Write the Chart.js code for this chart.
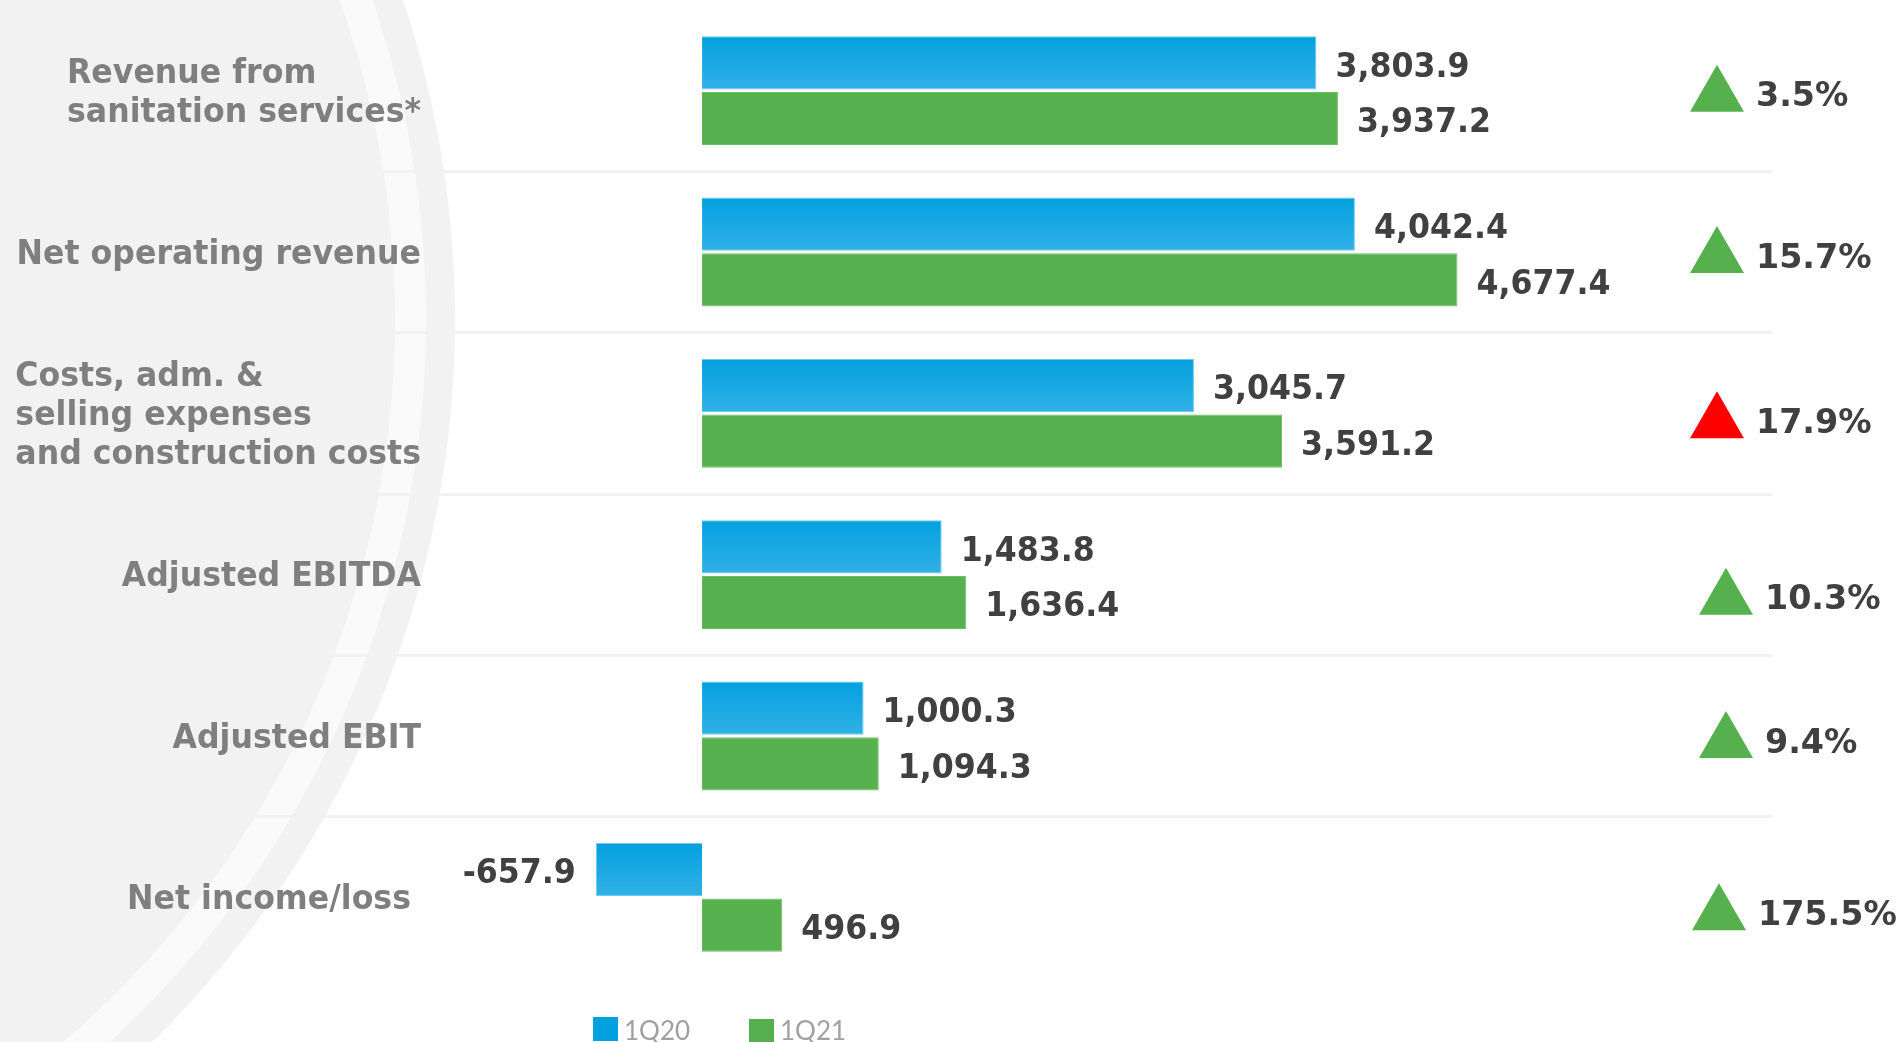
<!DOCTYPE html>
<html lang="en">
<head>
    <meta charset="UTF-8">
    <title>1Q20 vs 1Q21</title>
    <script src="https://cdn.jsdelivr.net/npm/chart.js"></script>
    <style>
        html, body {
            margin: 0;
            padding: 0;
            background: #fff;
            overflow: hidden;
        }
        canvas {
            display: block;
        }
    </style>
</head>
<body>
    <canvas id="results" width="1903" height="1042"></canvas>

    <script>
        // data (R$ million)
        const categories = [
            ['Revenue from', 'sanitation services*'],
            ['Net operating revenue'],
            ['Costs, adm. &', 'selling expenses', 'and construction costs'],
            ['Adjusted EBITDA'],
            ['Adjusted EBIT'],
            ['Net income/loss']
        ];
        const seriesLabels = ['1Q20', '1Q21'];
        const values1Q20 = [3803.9, 4042.4, 3045.7, 1483.8, 1000.3, -657.9];
        const values1Q21 = [3937.2, 4677.4, 3591.2, 1636.4, 1094.3, 496.9];
        const changeLabels = ['3.5%', '15.7%', '17.9%', '10.3%', '9.4%', '175.5%'];
        const changeFavourable = [true, true, false, true, true, true];

        // layout / style
        const X_MIN = -4347;
        const X_MAX = 6625;
        const CAT_PCT = 0.69;
        const BAR_PCT = 0.955;
        const BLUE_TOP = '#03a0df';
        const BLUE_BOTTOM = '#31b1e6';
        const GREEN = '#56b04e';
        const RED = '#ff0000';
        const LABEL_GREY = '#7f7f7f';
        const VALUE_GREY = '#404040';
        const LABEL_RIGHT = 421;
        const LINE_H = 38.7;
        const BADGE_X = 1756;
        const labelShiftX = [0, 0, 0, 0, 0, -10];
        const badgeShiftX = [0, 0, 0, 9, 9, 2];
        const badgeShiftY = [4, 4, 8, 23, 5, 16];
        const FONT = 'bold 34px "DejaVu Sans"';
        const SQUEEZE = 0.93;

        const fmt = v => v.toLocaleString('en-US', { minimumFractionDigits: 1, maximumFractionDigits: 1 });

        // text drawn slightly condensed, like the slide's squeezed Verdana
        function squeezedText(ctx, txt, x, y, sx) {
            ctx.save();
            ctx.translate(x, y);
            ctx.scale(sx, 1);
            ctx.fillText(txt, 0, 0);
            ctx.restore();
        }

        function blueFill(ctx) {
            const chart = ctx.chart;
            const y = chart.scales && chart.scales.y;
            if (!chart.chartArea || !y || ctx.dataIndex === undefined) return BLUE_TOP;
            const band = y.getPixelForValue(1) - y.getPixelForValue(0);
            const center = y.getPixelForValue(ctx.dataIndex);
            const top = center - band * CAT_PCT / 2;
            const g = chart.ctx.createLinearGradient(0, top, 0, center);
            g.addColorStop(0, BLUE_TOP);
            g.addColorStop(1, BLUE_BOTTOM);
            return g;
        }

        const backdrop = {
            id: 'backdrop',
            beforeDraw(chart) {
                const ctx = chart.ctx;
                ctx.save();
                ctx.fillStyle = '#fff';
                ctx.fillRect(0, 0, chart.width, chart.height);
                const rings = [[1012, '#f2f2f2'], [983, '#fafafa'], [952, '#f2f2f2']];
                rings.forEach(([r, c]) => {
                    ctx.beginPath();
                    ctx.arc(-557, 320, r, 0, Math.PI * 2);
                    ctx.fillStyle = c;
                    ctx.fill();
                });
                ctx.restore();
            }
        };

        const annotations = {
            id: 'annotations',
            afterDraw(chart) {
                const ctx = chart.ctx;
                const y = chart.scales.y;
                ctx.save();

                // category labels on the left
                ctx.font = FONT;
                ctx.fillStyle = LABEL_GREY;
                ctx.textAlign = 'left';
                ctx.textBaseline = 'middle';
                categories.forEach((lines, i) => {
                    const w = Math.max(...lines.map(l => ctx.measureText(l).width)) * SQUEEZE;
                    const x0 = LABEL_RIGHT + labelShiftX[i] - w;
                    const yc = y.getPixelForValue(i);
                    const y0 = yc - (lines.length - 1) * LINE_H / 2;
                    lines.forEach((l, k) => squeezedText(ctx, l, x0, y0 + k * LINE_H + 3, SQUEEZE));
                });

                // value labels beside the bars
                ctx.fillStyle = VALUE_GREY;
                chart.data.datasets.forEach((ds, di) => {
                    const meta = chart.getDatasetMeta(di);
                    meta.data.forEach((bar, i) => {
                        const v = ds.data[i];
                        if (v >= 0) {
                            ctx.textAlign = 'left';
                            squeezedText(ctx, fmt(v), bar.x + 19, bar.y + 5, SQUEEZE);
                        } else {
                            ctx.textAlign = 'right';
                            squeezedText(ctx, fmt(v), bar.x - 20, bar.y + 5, SQUEEZE);
                        }
                    });
                });

                // change badges on the right
                ctx.textAlign = 'left';
                changeLabels.forEach((txt, i) => {
                    const tx = BADGE_X + badgeShiftX[i];
                    const ty = y.getPixelForValue(i) + badgeShiftY[i];
                    ctx.fillStyle = changeFavourable[i] ? GREEN : RED;
                    ctx.beginPath();
                    ctx.moveTo(tx - 66, ty + 17);
                    ctx.lineTo(tx - 12, ty + 17);
                    ctx.lineTo(tx - 39, ty - 30);
                    ctx.closePath();
                    ctx.fill();
                    ctx.fillStyle = VALUE_GREY;
                    squeezedText(ctx, txt, tx, ty + 3, 0.98);
                });

                // legend at the bottom (cut by the slide edge)
                const swatches = [[593, 1017, BLUE_TOP], [749, 1019, GREEN]];
                ctx.font = '26px Lato';
                ctx.textBaseline = 'alphabetic';
                seriesLabels.forEach((s, i) => {
                    const [sx, sy, c] = swatches[i];
                    ctx.fillStyle = c;
                    ctx.fillRect(sx, sy, 25, 24);
                    ctx.fillStyle = '#a0a0a0';
                    ctx.fillText(s, sx + 31, 1040);
                });

                ctx.restore();
            }
        };

        new Chart(document.getElementById('results'), {
            type: 'bar',
            data: {
                labels: categories,
                datasets: [
                    {
                        label: seriesLabels[0],
                        data: values1Q20,
                        backgroundColor: blueFill,
                        borderColor: '#6ccaf0',
                        borderWidth: 1,
                        categoryPercentage: CAT_PCT,
                        barPercentage: BAR_PCT
                    },
                    {
                        label: seriesLabels[1],
                        data: values1Q21,
                        backgroundColor: GREEN,
                        borderColor: '#6cc064',
                        borderWidth: 1,
                        categoryPercentage: CAT_PCT,
                        barPercentage: BAR_PCT
                    }
                ]
            },
            options: {
                indexAxis: 'y',
                responsive: false,
                animation: false,
                devicePixelRatio: 1,
                layout: {
                    padding: { left: 0, top: 10, right: 131, bottom: 64 }
                },
                scales: {
                    x: {
                        min: X_MIN,
                        max: X_MAX,
                        ticks: { display: false, stepSize: 1000 },
                        border: { display: false },
                        grid: {
                            drawTicks: false,
                            lineWidth: 2,
                            color: ctx => (ctx.tick && ctx.tick.value === 0) ? '#d9d9d9' : 'rgba(0,0,0,0)'
                        }
                    },
                    y: {
                        ticks: { display: false },
                        border: { display: false },
                        grid: {
                            drawTicks: false,
                            lineWidth: 3,
                            color: ctx => (ctx.type === 'tick' && ctx.index > 0) ? '#f2f2f2' : 'rgba(0,0,0,0)'
                        }
                    }
                },
                plugins: {
                    legend: { display: false },
                    tooltip: { enabled: false }
                }
            },
            plugins: [backdrop, annotations]
        });
    </script>
</body>
</html>
